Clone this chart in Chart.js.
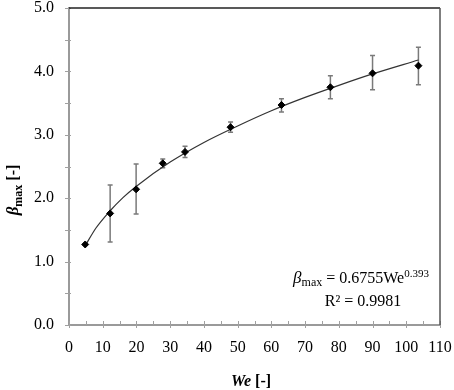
<!DOCTYPE html>
<html>
<head>
<meta charset="utf-8">
<script src="https://cdn.jsdelivr.net/npm/chart.js@4"></script>
<style>
  html, body { margin: 0; padding: 0; background: #fff; }
  #wrap { width: 454px; height: 390px; }
</style>
</head>
<body>
<div id="wrap"><canvas id="betaChart"></canvas></div>
<script>
// measured points (We, beta_max) with error bar ends
const weValues = [4.8, 12.2, 19.9, 27.8, 34.4, 47.9, 63.0, 77.5, 90.0, 103.6];
const betaValues = [1.27, 1.76, 2.14, 2.55, 2.73, 3.12, 3.47, 3.75, 3.97, 4.09];
const errLow = [1.27, 1.31, 1.75, 2.48, 2.64, 3.04, 3.36, 3.57, 3.71, 3.79];
const errHigh = [1.27, 2.21, 2.54, 2.62, 2.82, 3.20, 3.57, 3.93, 4.25, 4.38];

// trend line
const fitWe = [4.8, 8, 12, 16, 20, 30, 40, 50, 60, 70, 80, 90, 103.6];
const fitBeta = [1.25, 1.53, 1.79, 2.01, 2.19, 2.57, 2.88, 3.14, 3.38, 3.59, 3.78, 3.96, 4.18];

const xTicks = [0, 10, 20, 30, 40, 50, 60, 70, 80, 90, 100, 110];
const yTicks = [0, 1, 2, 3, 4, 5];

const serif = '"Liberation Serif", "Times New Roman", serif';

// draws a run of text pieces with different fonts / offsets
function drawRuns(ctx, runs, x, y, align) {
  let total = 0;
  runs.forEach(r => { ctx.font = r.font; total += ctx.measureText(r.text).width; });
  let cx = align === "center" ? x - total / 2 : (align === "right" ? x - total : x);
  runs.forEach(r => {
    ctx.font = r.font;
    ctx.fillText(r.text, cx, y + (r.dy || 0));
    cx += ctx.measureText(r.text).width;
  });
}

// keep the plot area fixed, no extra room for edge labels
function noPad(s) {
  s.paddingTop = 0;
  s.paddingBottom = 0;
  s.paddingLeft = 0;
  s.paddingRight = 0;
}

const extras = {
  id: "extras",
  beforeDatasetsDraw(chart) {
    const ctx = chart.ctx;
    const xs = chart.scales.x, ys = chart.scales.y;
    const a = chart.chartArea;
    ctx.save();
    // tick marks, crossing the axis lines
    ctx.strokeStyle = "#a0a0a0";
    ctx.lineWidth = 1;
    xs.ticks.forEach(t => {
      const px = Math.round(xs.getPixelForValue(t.value)) + 0.5;
      const major = xTicks.includes(t.value);
      ctx.beginPath();
      ctx.moveTo(px, a.bottom - 4);
      ctx.lineTo(px, a.bottom + (major ? 3 : 0));
      ctx.stroke();
    });
    ys.ticks.forEach(t => {
      const py = Math.round(ys.getPixelForValue(t.value)) + 0.5;
      ctx.beginPath();
      ctx.moveTo(a.left - 4, py);
      ctx.lineTo(a.left + 2, py);
      ctx.stroke();
    });
    // error bars
    ctx.strokeStyle = "#7a7a7a";
    ctx.lineWidth = 1.5;
    weValues.forEach((w, i) => {
      if (errHigh[i] === errLow[i]) return;
      const px = xs.getPixelForValue(w);
      const top = ys.getPixelForValue(errHigh[i]);
      const bot = ys.getPixelForValue(errLow[i]);
      ctx.beginPath();
      ctx.moveTo(px, top); ctx.lineTo(px, bot);
      ctx.moveTo(px - 2.5, top); ctx.lineTo(px + 2.5, top);
      ctx.moveTo(px - 2.5, bot); ctx.lineTo(px + 2.5, bot);
      ctx.stroke();
    });
    ctx.restore();
  },
  afterDraw(chart) {
    const ctx = chart.ctx;
    const a = chart.chartArea;
    ctx.save();
    // top and right frame
    ctx.strokeStyle = "#222";
    ctx.lineWidth = 1.5;
    ctx.beginPath();
    ctx.moveTo(a.left, a.top); ctx.lineTo(a.right, a.top);
    ctx.stroke();
    ctx.strokeStyle = "#555";
    ctx.beginPath();
    ctx.moveTo(a.right, a.top); ctx.lineTo(a.right, a.bottom);
    ctx.stroke();

    ctx.fillStyle = "#000";
    ctx.textBaseline = "alphabetic";
    // equation
    drawRuns(ctx, [
      { text: "β", font: "italic 17px " + serif },
      { text: "max", font: "12px " + serif, dy: 3 },
      { text: " = 0.6755We", font: "16px " + serif },
      { text: "0.393", font: "11px " + serif, dy: -6 }
    ], 361, 283, "center");
    drawRuns(ctx, [
      { text: "R² = 0.9981", font: "16px " + serif }
    ], 363, 306, "center");

    // x title
    drawRuns(ctx, [
      { text: "We", font: "italic bold 16px " + serif },
      { text: " [-]", font: "bold 16px " + serif }
    ], 251, 386, "center");

    // y title
    ctx.translate(18, 190);
    ctx.rotate(-Math.PI / 2);
    drawRuns(ctx, [
      { text: "β", font: "italic bold 17px " + serif },
      { text: "max", font: "bold 12px " + serif, dy: 4 },
      { text: " [-]", font: "bold 16px " + serif }
    ], 0, 0, "center");
    ctx.restore();
  }
};

const data = {
  datasets: [
    {
      type: "scatter",
      data: weValues.map((w, i) => ({ x: w, y: betaValues[i] })),
      backgroundColor: "#000",
      borderColor: "#000",
      pointStyle: "rectRot",
      pointRadius: 3.5,
      order: 0,
    },
    {
      type: "line",
      data: fitWe.map((w, i) => ({ x: w, y: fitBeta[i] })),
      borderColor: "#333",
      borderWidth: 1.2,
      pointRadius: 0,
      cubicInterpolationMode: "monotone",
      fill: false,
      order: 1,
    },
  ],
};

const config = {
  type: "scatter",
  data: data,
  plugins: [extras],
  options: {
    responsive: true,
    maintainAspectRatio: false,
    animation: false,
    layout: { padding: { top: 8, right: 14, left: 0, bottom: 0 } },
    plugins: {
      legend: { display: false },
      tooltip: { enabled: false },
    },
    scales: {
      x: {
        type: "linear",
        min: 0,
        max: 110,
        afterBuildTicks: (s) => {
          const t = [];
          for (let v = 0; v <= 110; v += 5) t.push({ value: v });
          s.ticks = t;
        },
        afterFit: (s) => { s.height = 65; noPad(s); },
        grid: { display: false },
        border: { color: "#9a9a9a", width: 2 },
        ticks: {
          autoSkip: false,
          maxRotation: 0,
          padding: 5,
          color: "#000",
          font: { family: serif, size: 16 },
          callback: (v) => (xTicks.includes(v) ? String(v) : ""),
        },
      },
      y: {
        min: 0,
        max: 5,
        afterBuildTicks: (s) => {
          const t = [];
          for (let v = 0; v <= 10; v++) t.push({ value: v / 2 });
          s.ticks = t;
        },
        afterFit: (s) => { s.width = 69; noPad(s); },
        grid: { display: false },
        border: { color: "#9a9a9a", width: 2 },
        ticks: {
          autoSkip: false,
          padding: 7,
          color: "#000",
          font: { family: serif, size: 16 },
          callback: (v) => (yTicks.includes(v) ? v.toFixed(1) : ""),
        },
      },
    },
  },
};

let myChart = new Chart(document.getElementById("betaChart"), config);
</script>
</body>
</html>
